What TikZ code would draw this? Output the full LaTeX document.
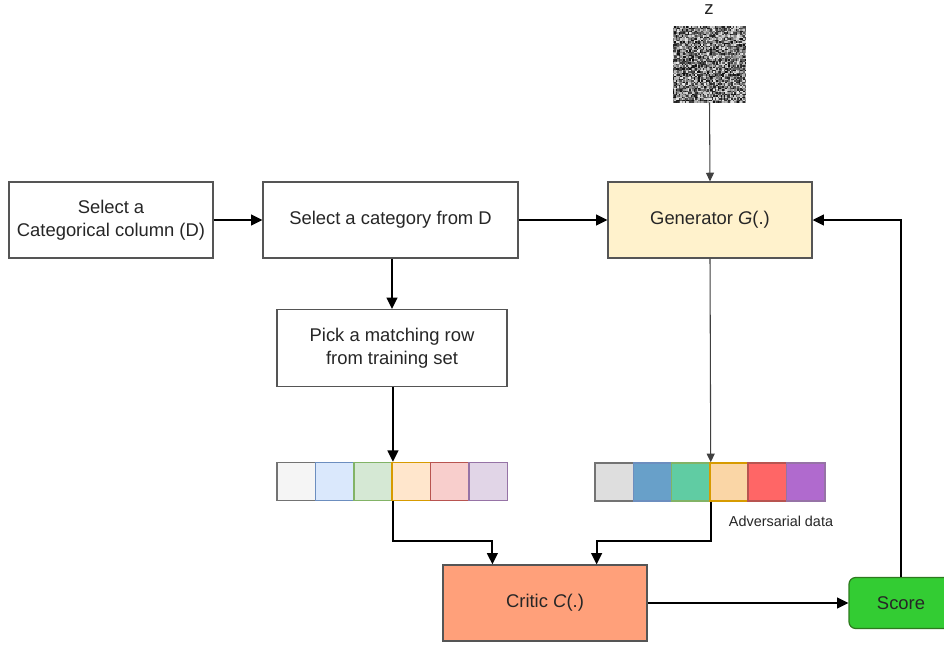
\documentclass[tikz,border=0pt]{standalone}
\usepackage{fontspec}
\setmainfont{Liberation Sans}
\usetikzlibrary{arrows.meta}
\definecolor{bordc}{HTML}{555555}
\definecolor{txtc}{HTML}{262626}
\definecolor{genfill}{HTML}{FFF2CC}
\definecolor{critfill}{HTML}{FFA07A}
\definecolor{scorefill}{HTML}{33CC33}
\definecolor{scoredraw}{HTML}{2D7A1E}
\tikzset{
  pxbox/.style={draw=bordc, line width=0.9pt, text=txtc, align=center,
    font=\fontsize{13.8}{17}\selectfont, inner sep=0pt},
  arr/.style={line width=1.6pt, -{Triangle[length=8.5pt,width=8pt]}},
  thinarr/.style={line width=0.8pt, draw=black!75, -{Triangle[length=6.5pt,width=6pt]}},
  cell/.style={line width=1.1pt, minimum width=38.4*0.75pt, minimum height=38*0.75pt, inner sep=0pt},
}
\begin{document}
\begin{tikzpicture}[x=0.75pt,y=-0.75pt]
\useasboundingbox (0,0) rectangle (944,646);
\clip (0,0) rectangle (944,646);
\fill[white] (0,0) rectangle (944,646);

% boxes
\node[pxbox, minimum width=204*0.75pt, minimum height=76*0.75pt] (b1) at (111,220) {Select a\\Categorical column (D)};
\node[pxbox, minimum width=255*0.75pt, minimum height=76*0.75pt] (b2) at (390.5,220) {Select a category from D};
\node[pxbox, fill=genfill, minimum width=204*0.75pt, minimum height=76*0.75pt] (gen) at (710,220) {Generator \textit{G}(.)};
\node[pxbox, minimum width=230*0.75pt, minimum height=77*0.75pt] (b3) at (392,348) {Pick a matching row\\from training set};
\node[pxbox, fill=critfill, minimum width=204*0.75pt, minimum height=76*0.75pt] (crit) at (545,603) {Critic \textit{C}(.)};
\node[pxbox, fill=scorefill, draw=scoredraw, rounded corners=5pt, minimum width=104*0.75pt, minimum height=51*0.75pt] (score) at (901,603) {Score};

% noise image z
\node[minimum width=74*0.75pt, minimum height=76*0.75pt, inner sep=0pt] (zimg) at (709.5,64) {};
\pgfmathsetseed{7}
\foreach \i in {0,...,48}{
  \foreach \j in {0,...,50}{
    \pgfmathsetmacro\g{int(random(8,95))}
    \fill[black!\g] (672.5+1.5*\i,26+1.5*\j) rectangle ++(1.5,1.5);
  }
}
\node[font=\fontsize{14}{16}\selectfont, text=txtc] (zlab) at (709,10) {z};

% real strip
\node[cell, draw=black!55, fill=black!4]      (s1) at (296.2,481.5) {};
\node[cell, draw={rgb,255:red,108;green,142;blue,191}, fill={rgb,255:red,218;green,232;blue,252}] (s2) at (334.6,481.5) {};
\node[cell, draw={rgb,255:red,130;green,179;blue,102}, fill={rgb,255:red,213;green,232;blue,212}] (s3) at (373.0,481.5) {};
\node[cell, draw={rgb,255:red,215;green,155;blue,0},   fill={rgb,255:red,255;green,230;blue,204}] (s4) at (411.4,481.5) {};
\node[cell, draw={rgb,255:red,184;green,84;blue,80},   fill={rgb,255:red,248;green,206;blue,204}] (s5) at (449.8,481.5) {};
\node[cell, draw={rgb,255:red,150;green,115;blue,166}, fill={rgb,255:red,225;green,213;blue,231}] (s6) at (488.2,481.5) {};

% adversarial strip
\node[cell, draw=black!55, fill=black!13]     (a1) at (614.2,482) {};
\node[cell, draw={rgb,255:red,108;green,142;blue,191}, fill={rgb,255:red,104;green,160;blue,201}] (a2) at (652.5,482) {};
\node[cell, draw={rgb,255:red,130;green,179;blue,102}, fill={rgb,255:red,96;green,204;blue,163}]  (a3) at (690.8,482) {};
\node[cell, draw={rgb,255:red,215;green,155;blue,0},   fill={rgb,255:red,250;green,214;blue,166}] (a4) at (729.1,482) {};
\node[cell, draw={rgb,255:red,184;green,84;blue,80},   fill={rgb,255:red,255;green,102;blue,102}] (a5) at (767.4,482) {};
\node[cell, draw={rgb,255:red,150;green,115;blue,166}, fill={rgb,255:red,176;green,106;blue,206}] (a6) at (805.7,482) {};
\node[font=\fontsize{10.8}{13}\selectfont, text=txtc] (advlab) at (781,521) {Adversarial data};

% connectors
\draw[arr] (b1.east) -- (b2.west);
\draw[arr] (b2.east) -- (gen.west);
\draw[arr] (b2.south -| b3.north) -- (b3.north);
\draw[thinarr] (zimg.south) -- (gen.north);
\draw[arr] (b3.south -| s3.north east) -- (s3.north east);
\draw[thinarr] (gen.south) -- (a3.north east);
\draw[arr] (s3.south east) -- ++(0,40) -| ([xshift=37.5pt]crit.north west);
\draw[arr] (a3.south east) -- ++(0,39) -| ([xshift=-38.25pt]crit.north east);
\draw[arr] (crit.east) -- (score.west);
\draw[arr] (score.north) |- (gen.east);
\end{tikzpicture}
\end{document}
